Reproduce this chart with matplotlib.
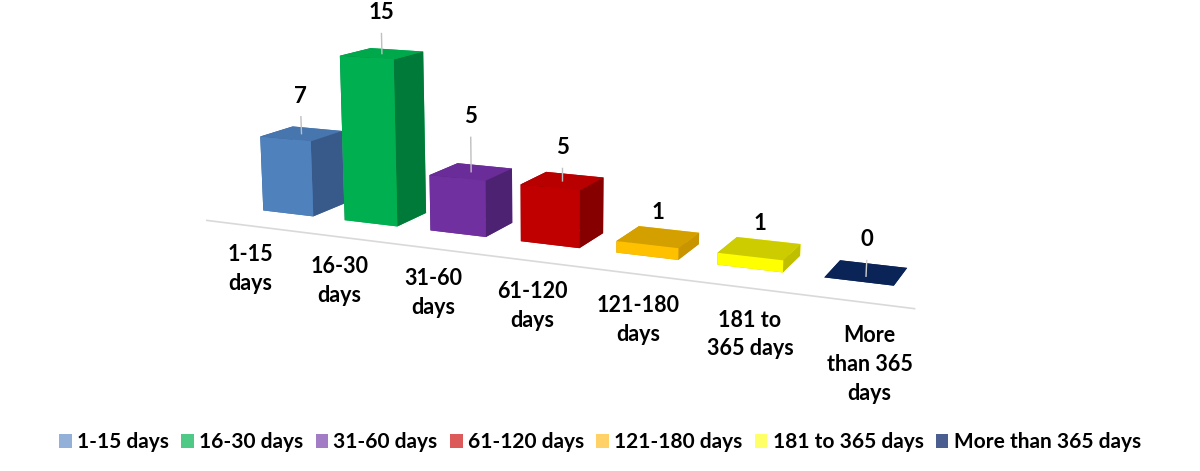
import matplotlib
matplotlib.use('Agg')
import matplotlib.pyplot as plt
from matplotlib.patches import Patch
import numpy as np

categories = ['1-15 days', '16-30 days', '31-60 days', '61-120 days',
              '121-180 days', '181 to 365 days', 'More than 365 days']
tick_labels = ['1-15\ndays', '16-30\ndays', '31-60\ndays', '61-120\ndays',
               '121-180\ndays', '181 to\n365 days', 'More\nthan 365\ndays']
counts = [7, 15, 5, 5, 1, 1, 0]

front_colors = ['#4f81bd', '#00b050', '#7030a0', '#c00000', '#ffc000', '#ffff00', '#002060']
top_colors = ['#4775ad', '#00a84c', '#6a2c98', '#b80000', '#d4a000', '#cccc00', '#0a2458']
side_colors = ['#375a8a', '#007a38', '#4e2272', '#860000', '#c89400', '#bfbf00', '#001848']
legend_colors = ['#93b0d8', '#4fc986', '#a27cc4', '#dc5a5a', '#ffd166', '#ffff66', '#4a5f8f']

# how far each value label sits above its bar (in count units)
label_offset = [2.5, 2.7, 4.0, 2.0, 1.2, 1.2, 1.9]

plt.rcParams['font.family'] = ['Lato', 'DejaVu Sans']
plt.rcParams['font.weight'] = 'bold'

fig = plt.figure(figsize=(12, 4.71), dpi=100)
ax = fig.add_axes([-0.05, -0.187, 1.0, 1.68], projection='3d', computed_zorder=False)
ax.set_proj_type('persp', focal_length=0.35)
ax.view_init(elev=12, azim=-66)

dx, dy = 0.62, 0.62
xs = np.arange(len(counts))
for i, v in enumerate(counts):
    # face order: bottom, top, front, back, left, right
    fc = [top_colors[i], top_colors[i], front_colors[i], front_colors[i],
          side_colors[i], side_colors[i]]
    ax.bar3d(xs[i] - dx / 2, 0, 0, dx, dy, v, color=fc, shade=False,
             edgecolor='none', zorder=2 + i)
    cx, cy = xs[i], dy / 2
    top = v + label_offset[i]
    lc = '#d0d0d0' if v == 0 else '#bfbfbf'
    if label_offset[i] > 1.5:
        ax.plot([cx, cx], [cy, cy], [v - 0.3 if v == 0 else v, top - 0.9],
                color=lc, lw=1.0, zorder=20)
    ax.text(cx, cy, top, str(v), ha='center', va='bottom', fontsize=16,
            fontweight='bold', zorder=30)
    ax.text(cx + 0.35, -1.2, 0.0, tick_labels[i], ha='center', va='top',
            fontsize=15.5, fontweight='bold', zorder=30, linespacing=1.45)

ax.plot([-0.6, 6.6], [-0.6, -0.6], [0, 0], color='#d9d9d9', lw=1.2, zorder=1)

ax.set_xlim(-0.9, 6.7)
ax.set_ylim(-0.5, 1.0)
ax.set_zlim(0, 15)
ax.set_box_aspect((7.8, 1.5, 1.75))
ax.set_xticks([])
ax.set_yticks([])
ax.set_zticks([])
ax.set_axis_off()

handles = [Patch(facecolor=c, edgecolor='none') for c in legend_colors]
fig.legend(handles, categories, loc='lower center', ncol=7, frameon=False,
           bbox_to_anchor=(0.5, 0.0), handlelength=0.6,
           handleheight=0.6, handletextpad=0.25, columnspacing=0.6,
           prop={'weight': 'bold', 'size': 15})

fig.savefig('out.png', dpi=100)
